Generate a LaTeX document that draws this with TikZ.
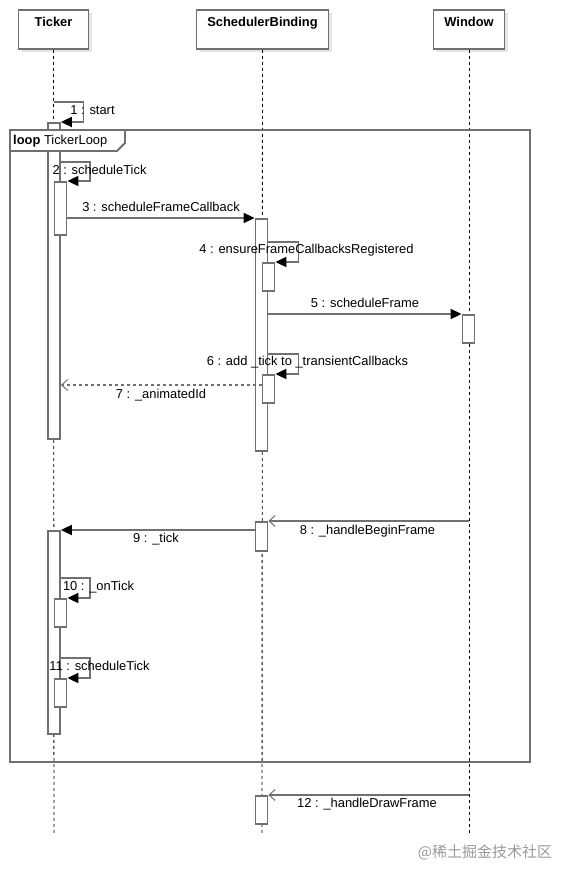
\documentclass[tikz,border=0pt]{standalone}
\usepackage{fontspec}
\setmainfont{Liberation Sans}
\newfontfamily\cjkfont{Noto Sans CJK SC}
\usetikzlibrary{arrows.meta,shadows}
\definecolor{edge}{HTML}{707070}

\begin{document}
\begin{tikzpicture}[
    x=1pt, y=-1pt,
    head/.style={draw=edge, line width=1.8pt, fill=white, minimum height=39pt, inner sep=2pt,
        text height=15pt, text depth=20pt, font=\fontsize{12.9}{15}\selectfont\bfseries,
        general shadow={fill=black!10, shadow xshift=3pt, shadow yshift=-3pt}},
    life/.style={dashed, dash pattern=on 3pt off 3pt, line width=0.9pt},
    act/.style={draw=edge, line width=1.8pt, fill=white, minimum width=12pt, inner sep=0pt, anchor=north},
    call/.style={draw=edge, line width=1.8pt, -{Triangle[length=11pt,width=10pt,color=black]}},
    reply/.style={draw=edge, line width=1.2pt, dashed, dash pattern=on 3pt off 3pt, -{Straight Barb[length=6pt,width=11pt,line width=1pt]}},
    async/.style={draw=edge, line width=1.8pt, -{Straight Barb[length=6pt,width=11pt,line width=1pt]}},
    msg/.style={font=\fontsize{12.9}{15}\selectfont, inner sep=0pt}
]
\useasboundingbox (0,0) rectangle (570,877);

% participants
\node[head, minimum width=70pt] (ticker) at (53.5,29.5) {Ticker};
\node[head, minimum width=132pt] (binding) at (262.5,29.5) {SchedulerBinding};
\node[head, minimum width=71pt] (window) at (469,29.5) {Window};

% lifelines
\coordinate (tickerEnd) at (54,835);
\coordinate (bindingEnd) at (262,835);
\coordinate (windowEnd) at (469,835);
\draw[life] (ticker.south) -- (tickerEnd);
\draw[life] (binding.south) -- (bindingEnd);
\draw[life] (window.south) -- (windowEnd);

% activations
\node[act, minimum height=316pt] (T1) at (54,122) {};
\node[act, minimum height=53pt] (T2) at (60.5,181) {};
\node[act, minimum height=232pt] (S1) at (261.5,218) {};
\node[act, minimum height=28pt] (S2) at (268.5,262) {};
\node[act, minimum height=28pt] (W1) at (468.5,314) {};
\node[act, minimum height=28pt] (S3) at (268.5,374) {};
\node[act, minimum height=29pt] (S4) at (261.5,521) {};
\node[act, minimum height=203pt] (T3) at (54,530) {};
\node[act, minimum height=28pt] (T4) at (60.5,598) {};
\node[act, minimum height=28pt] (T5) at (60.5,678) {};
\node[act, minimum height=28pt] (S5) at (261.5,795) {};

% loop frame
\draw[edge, line width=1.8pt] (10,130) rectangle (530,762);
\draw[edge, line width=1.8pt, fill=white] (10,130) -- (125,130) -- (125,143) -- (117,151) -- (10,151) -- cycle;
\node[msg, anchor=west] (loopLbl) at (13,141) {\textbf{loop} TickerLoop};

% messages
\draw[call] (ticker.south |- 0,102) -- ++(30,0) |- (T1.north east);
\node[msg] (m1) at (92.5,110) {1 : start};
\draw[call] (T1.east |- 0,162) -- ++(29,0) |- (T2.north east);
\node[msg] (m2) at (99.5,170) {2 : scheduleTick};
\draw[call] (T2.east |- 0,218) -- (S1.north west);
\node[msg] (m3) at (161,207) {3 : scheduleFrameCallback};
\draw[call] (S1.east |- 0,242) -- ++(30,0) |- (S2.north east);
\node[msg] (m4) at (306.5,250) {4 : ensureFrameCallbacksRegistered};
\draw[call] (S1.east |- 0,314) -- (W1.north west);
\node[msg] (m5) at (365,303) {5 : scheduleFrame};
\draw[call] (S1.east |- 0,354) -- ++(30,0) |- (S3.north east);
\node[msg] (m6) at (307.5,362) {6 : add \_tick to \_transientCallbacks};
\draw[reply] (S3.west |- 0,385) -- (T1.east |- 0,385);
\node[msg] (m7) at (161,395) {7 : \_animatedId};
\draw[async] (window.south |- 0,521) -- (S4.north east);
\node[msg] (m8) at (367.5,531) {8 : \_handleBeginFrame};
\draw[call] (S4.west |- 0,530) -- (T3.north east);
\node[msg] (m9) at (156,539) {9 : \_tick};
\draw[call] (T3.east |- 0,578) -- ++(29,0) |- (T4.north east);
\node[msg] (m10) at (98.5,587) {10 : \_onTick};
\draw[call] (T3.east |- 0,658) -- ++(29,0) |- (T5.north east);
\node[msg] (m11) at (99.5,666) {11 : scheduleTick};
\draw[async] (window.south |- 0,795) -- (S5.north east);
\node[msg] (m12) at (367,804) {12 : \_handleDrawFrame};

% watermark
\node[msg, text=black!40, font=\fontsize{15}{17}\cjkfont] (mark) at (485,852) {@稀土掘金技术社区};
\end{tikzpicture}
\end{document}
